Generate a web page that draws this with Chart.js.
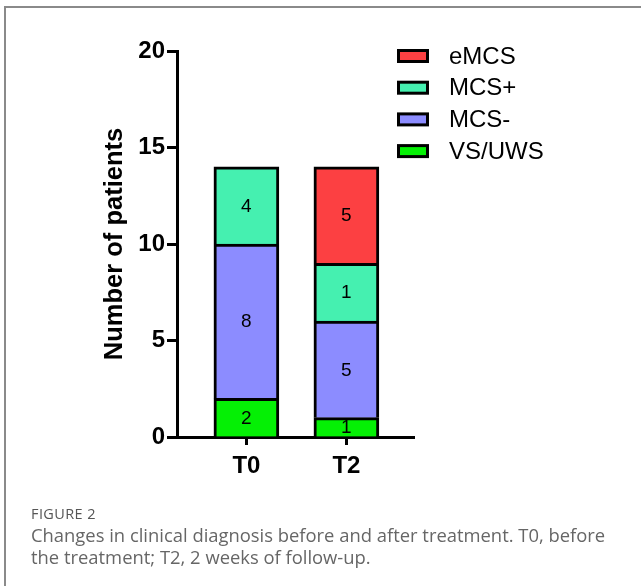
<!DOCTYPE html>
<html>
<head>
<meta charset="utf-8">
<script src="https://cdn.jsdelivr.net/npm/chart.js@4.4.1/dist/chart.umd.min.js"></script>
<style>
    html, body { margin: 0; padding: 0; background: #fff; }
    #page { position: relative; width: 641px; height: 586px; overflow: hidden; }
    #frame { position: absolute; left: 4px; top: 6px; right: -10px; bottom: -10px; border-left: 2px solid #8a8a8a; border-top: 2px solid #8a8a8a; }
    #caption { position: absolute; left: 31px; top: 504px; width: 590px; font-family: "Open Sans", sans-serif; color: #666; }
    #caption .fig { font-size: 14.5px; color: #555; line-height: 20px; letter-spacing: 0.4px; }
    #caption .txt { font-size: 18.4px; line-height: 22px; }
</style>
</head>
<body>
<div id="page">
    <div id="frame"></div>
    <canvas id="barChart" width="641" height="490"></canvas>
    <div id="caption">
        <div class="fig">FIGURE 2</div>
        <div class="txt">Changes in clinical diagnosis before and after treatment. T0, before the treatment; T2, 2 weeks of follow-up.</div>
    </div>
</div>
<script>
// categories on x axis
const categories = ["T0", "T2"];

// series, bottom of the stack first
const seriesNames = ["VS/UWS", "MCS-", "MCS+", "eMCS"];
const vsUws = [2, 1];
const mcsMinus = [8, 5];
const mcsPlus = [4, 3];
const eMcs = [0, 5];

// numbers printed inside the segments (as in the figure)
const vsUwsText = ["2", "1"];
const mcsMinusText = ["8", "5"];
const mcsPlusText = ["4", "1"];
const eMcsText = ["", "5"];

const yTicks = [0, 5, 10, 15, 20];

const seriesValues = [vsUws, mcsMinus, mcsPlus, eMcs];
const seriesText = [vsUwsText, mcsMinusText, mcsPlusText, eMcsText];
const seriesColors = ["#05f005", "#8c8cff", "#45f0b0", "#fc4042"];

const fontFam = "'Liberation Sans', Arial, sans-serif";

// draw numbers in the middle of each segment
const segmentLabels = {
    id: "segmentLabels",
    afterDatasetsDraw(chart) {
        const ctx = chart.ctx;
        ctx.save();
        ctx.font = "19px " + fontFam;
        ctx.fillStyle = "#000";
        ctx.textAlign = "center";
        ctx.textBaseline = "middle";
        chart.data.datasets.forEach((ds, d) => {
            const meta = chart.getDatasetMeta(d);
            meta.data.forEach((bar, i) => {
                const txt = seriesText[d][i];
                if (!txt) return;
                ctx.fillText(txt, bar.x, (bar.y + bar.base) / 2 + 1);
            });
        });
        ctx.restore();
    }
};

// legend box in the top right, top series first
const sideLegend = {
    id: "sideLegend",
    afterDraw(chart) {
        const ctx = chart.ctx;
        const x0 = chart.chartArea.right - 17;
        const y0 = 49;
        const rowGap = 31.7;
        ctx.save();
        ctx.font = "24px " + fontFam;
        ctx.textBaseline = "middle";
        const order = chart.data.datasets.map((ds, i) => i).reverse();
        order.forEach((d, row) => {
            const ds = chart.data.datasets[d];
            const y = y0 + row * rowGap;
            ctx.fillStyle = "#000";
            ctx.fillRect(x0, y, 32, 14);
            ctx.fillStyle = ds.backgroundColor;
            ctx.fillRect(x0 + 3, y + 3, 26, 8);
            ctx.fillStyle = "#000";
            ctx.fillText(ds.label, x0 + 52, y + 8);
        });
        ctx.restore();
    }
};

const ctx = document.getElementById("barChart");

new Chart(ctx, {
    type: "bar",
    data: {
        datasets: seriesNames.map((name, d) => ({
            label: name,
            data: seriesValues[d].map((v, i) => ({ x: i, y: v })),
            backgroundColor: seriesColors[d],
            borderColor: "#000",
            borderWidth: 3,
            barThickness: 65
        }))
    },
    options: {
        responsive: false,
        animation: false,
        layout: { padding: { left: 96, top: 51, right: 227, bottom: 0 } },
        plugins: {
            legend: { display: false },
            tooltip: { enabled: false }
        },
        scales: {
            x: {
                type: "linear",
                stacked: true,
                offset: false,
                min: -0.694,
                max: 1.676,
                afterBuildTicks: (axis) => { axis.ticks = categories.map((c, i) => ({ value: i })); },
                afterFit: (axis) => { axis.height = 53; },
                ticks: {
                    callback: (v) => categories[v],
                    color: "#000",
                    padding: 7,
                    font: { family: fontFam, size: 24, weight: "bold" }
                },
                grid: { offset: false, drawOnChartArea: false, tickLength: 8, tickWidth: 3, tickColor: "#000" },
                border: { color: "#000", width: 3 }
            },
            y: {
                stacked: true,
                min: 0,
                max: 20,
                afterBuildTicks: (axis) => { axis.ticks = yTicks.map(v => ({ value: v })); },
                afterFit: (axis) => { axis.width = 81; },
                ticks: {
                    color: "#000",
                    padding: 2,
                    font: { family: fontFam, size: 24, weight: "bold" }
                },
                grid: { drawOnChartArea: false, tickLength: 10, tickWidth: 3, tickColor: "#000" },
                border: { color: "#000", width: 3 },
                title: {
                    display: true,
                    text: "Number of patients",
                    color: "#000",
                    padding: { top: 4, bottom: 4 },
                    font: { family: fontFam, size: 25.5, weight: "bold" }
                }
            }
        }
    },
    plugins: [segmentLabels, sideLegend]
});
</script>
</body>
</html>
